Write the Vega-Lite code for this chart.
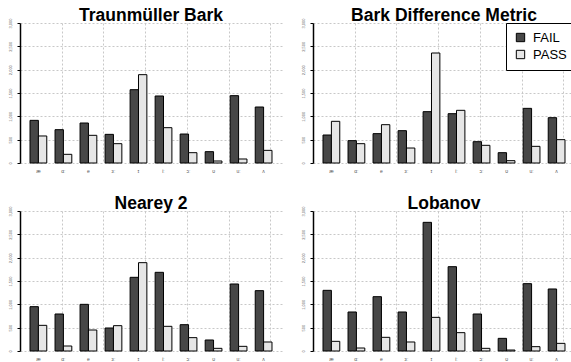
{
  "$schema": "https://vega.github.io/schema/vega-lite/v6.json",
  "padding": {"left": 2, "top": 7, "right": 0, "bottom": 0},
  "background": "white",
  "config": {
    "view": {"stroke": null},
    "font": "Liberation Sans",
    "title": {"fontSize": 17.5, "fontWeight": "bold", "font": "Liberation Sans", "color": "black", "offset": -7},
    "bar": {"stroke": "black", "strokeWidth": 1}
  },
  "data": {"values": [
    {"method": "Traunmüller Bark", "vowel": "æ", "outcome": "FAIL", "count": 914},
    {"method": "Traunmüller Bark", "vowel": "æ", "outcome": "PASS", "count": 579},
    {"method": "Traunmüller Bark", "vowel": "ɑː", "outcome": "FAIL", "count": 714},
    {"method": "Traunmüller Bark", "vowel": "ɑː", "outcome": "PASS", "count": 186},
    {"method": "Traunmüller Bark", "vowel": "e", "outcome": "FAIL", "count": 857},
    {"method": "Traunmüller Bark", "vowel": "e", "outcome": "PASS", "count": 593},
    {"method": "Traunmüller Bark", "vowel": "ɜː", "outcome": "FAIL", "count": 614},
    {"method": "Traunmüller Bark", "vowel": "ɜː", "outcome": "PASS", "count": 414},
    {"method": "Traunmüller Bark", "vowel": "ɪ", "outcome": "FAIL", "count": 1571},
    {"method": "Traunmüller Bark", "vowel": "ɪ", "outcome": "PASS", "count": 1893},
    {"method": "Traunmüller Bark", "vowel": "iː", "outcome": "FAIL", "count": 1436},
    {"method": "Traunmüller Bark", "vowel": "iː", "outcome": "PASS", "count": 757},
    {"method": "Traunmüller Bark", "vowel": "ɔː", "outcome": "FAIL", "count": 621},
    {"method": "Traunmüller Bark", "vowel": "ɔː", "outcome": "PASS", "count": 221},
    {"method": "Traunmüller Bark", "vowel": "ʊ", "outcome": "FAIL", "count": 243},
    {"method": "Traunmüller Bark", "vowel": "ʊ", "outcome": "PASS", "count": 43},
    {"method": "Traunmüller Bark", "vowel": "uː", "outcome": "FAIL", "count": 1443},
    {"method": "Traunmüller Bark", "vowel": "uː", "outcome": "PASS", "count": 86},
    {"method": "Traunmüller Bark", "vowel": "ʌ", "outcome": "FAIL", "count": 1200},
    {"method": "Traunmüller Bark", "vowel": "ʌ", "outcome": "PASS", "count": 271},
    {"method": "Bark Difference Metric", "vowel": "æ", "outcome": "FAIL", "count": 600},
    {"method": "Bark Difference Metric", "vowel": "æ", "outcome": "PASS", "count": 893},
    {"method": "Bark Difference Metric", "vowel": "ɑː", "outcome": "FAIL", "count": 479},
    {"method": "Bark Difference Metric", "vowel": "ɑː", "outcome": "PASS", "count": 414},
    {"method": "Bark Difference Metric", "vowel": "e", "outcome": "FAIL", "count": 629},
    {"method": "Bark Difference Metric", "vowel": "e", "outcome": "PASS", "count": 821},
    {"method": "Bark Difference Metric", "vowel": "ɜː", "outcome": "FAIL", "count": 693},
    {"method": "Bark Difference Metric", "vowel": "ɜː", "outcome": "PASS", "count": 321},
    {"method": "Bark Difference Metric", "vowel": "ɪ", "outcome": "FAIL", "count": 1100},
    {"method": "Bark Difference Metric", "vowel": "ɪ", "outcome": "PASS", "count": 2357},
    {"method": "Bark Difference Metric", "vowel": "iː", "outcome": "FAIL", "count": 1057},
    {"method": "Bark Difference Metric", "vowel": "iː", "outcome": "PASS", "count": 1129},
    {"method": "Bark Difference Metric", "vowel": "ɔː", "outcome": "FAIL", "count": 457},
    {"method": "Bark Difference Metric", "vowel": "ɔː", "outcome": "PASS", "count": 379},
    {"method": "Bark Difference Metric", "vowel": "ʊ", "outcome": "FAIL", "count": 221},
    {"method": "Bark Difference Metric", "vowel": "ʊ", "outcome": "PASS", "count": 50},
    {"method": "Bark Difference Metric", "vowel": "uː", "outcome": "FAIL", "count": 1171},
    {"method": "Bark Difference Metric", "vowel": "uː", "outcome": "PASS", "count": 357},
    {"method": "Bark Difference Metric", "vowel": "ʌ", "outcome": "FAIL", "count": 971},
    {"method": "Bark Difference Metric", "vowel": "ʌ", "outcome": "PASS", "count": 500},
    {"method": "Nearey 2", "vowel": "æ", "outcome": "FAIL", "count": 950},
    {"method": "Nearey 2", "vowel": "æ", "outcome": "PASS", "count": 550},
    {"method": "Nearey 2", "vowel": "ɑː", "outcome": "FAIL", "count": 793},
    {"method": "Nearey 2", "vowel": "ɑː", "outcome": "PASS", "count": 107},
    {"method": "Nearey 2", "vowel": "e", "outcome": "FAIL", "count": 1000},
    {"method": "Nearey 2", "vowel": "e", "outcome": "PASS", "count": 450},
    {"method": "Nearey 2", "vowel": "ɜː", "outcome": "FAIL", "count": 493},
    {"method": "Nearey 2", "vowel": "ɜː", "outcome": "PASS", "count": 543},
    {"method": "Nearey 2", "vowel": "ɪ", "outcome": "FAIL", "count": 1579},
    {"method": "Nearey 2", "vowel": "ɪ", "outcome": "PASS", "count": 1893},
    {"method": "Nearey 2", "vowel": "iː", "outcome": "FAIL", "count": 1686},
    {"method": "Nearey 2", "vowel": "iː", "outcome": "PASS", "count": 529},
    {"method": "Nearey 2", "vowel": "ɔː", "outcome": "FAIL", "count": 564},
    {"method": "Nearey 2", "vowel": "ɔː", "outcome": "PASS", "count": 286},
    {"method": "Nearey 2", "vowel": "ʊ", "outcome": "FAIL", "count": 236},
    {"method": "Nearey 2", "vowel": "ʊ", "outcome": "PASS", "count": 57},
    {"method": "Nearey 2", "vowel": "uː", "outcome": "FAIL", "count": 1436},
    {"method": "Nearey 2", "vowel": "uː", "outcome": "PASS", "count": 100},
    {"method": "Nearey 2", "vowel": "ʌ", "outcome": "FAIL", "count": 1293},
    {"method": "Nearey 2", "vowel": "ʌ", "outcome": "PASS", "count": 193},
    {"method": "Lobanov", "vowel": "æ", "outcome": "FAIL", "count": 1300},
    {"method": "Lobanov", "vowel": "æ", "outcome": "PASS", "count": 207},
    {"method": "Lobanov", "vowel": "ɑː", "outcome": "FAIL", "count": 836},
    {"method": "Lobanov", "vowel": "ɑː", "outcome": "PASS", "count": 64},
    {"method": "Lobanov", "vowel": "e", "outcome": "FAIL", "count": 1164},
    {"method": "Lobanov", "vowel": "e", "outcome": "PASS", "count": 293},
    {"method": "Lobanov", "vowel": "ɜː", "outcome": "FAIL", "count": 836},
    {"method": "Lobanov", "vowel": "ɜː", "outcome": "PASS", "count": 193},
    {"method": "Lobanov", "vowel": "ɪ", "outcome": "FAIL", "count": 2757},
    {"method": "Lobanov", "vowel": "ɪ", "outcome": "PASS", "count": 721},
    {"method": "Lobanov", "vowel": "iː", "outcome": "FAIL", "count": 1807},
    {"method": "Lobanov", "vowel": "iː", "outcome": "PASS", "count": 393},
    {"method": "Lobanov", "vowel": "ɔː", "outcome": "FAIL", "count": 793},
    {"method": "Lobanov", "vowel": "ɔː", "outcome": "PASS", "count": 57},
    {"method": "Lobanov", "vowel": "ʊ", "outcome": "FAIL", "count": 271},
    {"method": "Lobanov", "vowel": "ʊ", "outcome": "PASS", "count": 21},
    {"method": "Lobanov", "vowel": "uː", "outcome": "FAIL", "count": 1443},
    {"method": "Lobanov", "vowel": "uː", "outcome": "PASS", "count": 93},
    {"method": "Lobanov", "vowel": "ʌ", "outcome": "FAIL", "count": 1329},
    {"method": "Lobanov", "vowel": "ʌ", "outcome": "PASS", "count": 164}
  ]},
  "columns": 2,
  "spacing": {"row": 20, "column": 13},
  "resolve": {"legend": {"color": "independent"}},
  "concat": [
    {
      "title": "Traunmüller Bark",
      "width": 262, "height": 140,
      "transform": [{"filter": "datum.method === 'Traunmüller Bark'"}],
      "resolve": {"scale": {"x": "independent"}, "axis": {"x": "independent"}},
      "layer": [
        {
          "mark": {"type": "bar"},
          "encoding": {
            "x": {"field": "vowel", "type": "nominal", "sort": ["æ", "ɑː", "e", "ɜː", "ɪ", "iː", "ɔː", "ʊ", "uː", "ʌ"], "scale": {"paddingInner": 0.33, "paddingOuter": 0.4}, "axis": {"title": null, "labelAngle": 0, "labelFontSize": 5, "labelColor": "#555", "ticks": false, "domain": false, "labelPadding": 5, "grid": false, "maxExtent": 12, "minExtent": 12}},
            "xOffset": {"field": "outcome", "type": "nominal", "sort": ["FAIL", "PASS"]},
            "y": {"field": "count", "type": "quantitative", "scale": {"domain": [0, 3000], "nice": false}, "axis": {"title": null, "values": [0, 500, 1000, 1500, 2000, 2500, 3000], "grid": true, "gridDash": [2, 2], "gridColor": "#c8c8c8", "domainColor": "black", "domainWidth": 1.5, "tickColor": "black", "tickSize": 3, "labelFontSize": 4, "labelAngle": 270, "labelColor": "#666", "labelPadding": 5, "labelOverlap": false, "minExtent": 18, "maxExtent": 18}},
            "color": {"field": "outcome", "type": "nominal", "scale": {"domain": ["FAIL", "PASS"], "range": ["#474747", "#e6e6e6"]}, "legend": null}
          }
        },
        {
          "mark": {"type": "rule", "opacity": 0},
          "encoding": {"x": {"datum": 0, "type": "quantitative", "scale": {"domain": [0, 6.28], "nice": false, "zero": false}, "axis": {"orient": "top", "values": [1, 2, 3, 4, 5, 6], "grid": true, "labels": false, "ticks": false, "domain": false, "title": null, "gridDash": [2, 2], "gridColor": "#c8c8c8", "minExtent": 0, "maxExtent": 0}}}
        }
      ]
    },
    {
      "title": "Bark Difference Metric",
      "width": 262, "height": 140,
      "transform": [{"filter": "datum.method === 'Bark Difference Metric'"}],
      "resolve": {"scale": {"x": "independent"}, "axis": {"x": "independent"}},
      "layer": [
        {
          "mark": {"type": "bar"},
          "encoding": {
            "x": {"field": "vowel", "type": "nominal", "sort": ["æ", "ɑː", "e", "ɜː", "ɪ", "iː", "ɔː", "ʊ", "uː", "ʌ"], "scale": {"paddingInner": 0.33, "paddingOuter": 0.4}, "axis": {"title": null, "labelAngle": 0, "labelFontSize": 5, "labelColor": "#555", "ticks": false, "domain": false, "labelPadding": 5, "grid": false, "maxExtent": 12, "minExtent": 12}},
            "xOffset": {"field": "outcome", "type": "nominal", "sort": ["FAIL", "PASS"]},
            "y": {"field": "count", "type": "quantitative", "scale": {"domain": [0, 3000], "nice": false}, "axis": {"title": null, "values": [0, 500, 1000, 1500, 2000, 2500, 3000], "grid": true, "gridDash": [2, 2], "gridColor": "#c8c8c8", "domainColor": "black", "domainWidth": 1.5, "tickColor": "black", "tickSize": 3, "labelFontSize": 4, "labelAngle": 270, "labelColor": "#666", "labelPadding": 5, "labelOverlap": false, "minExtent": 18, "maxExtent": 18}},
            "color": {"field": "outcome", "type": "nominal", "scale": {"domain": ["FAIL", "PASS"], "range": ["#474747", "#e6e6e6"]}, "legend": {"title": null, "orient": "top-right", "offset": 0, "labelFontSize": 13, "labelFont": "Liberation Sans", "labelColor": "black", "symbolType": "square", "symbolSize": 70, "symbolStrokeColor": "black", "symbolStrokeWidth": 1, "fillColor": "white", "strokeColor": "black", "padding": 8, "rowPadding": 3, "labelOffset": 6, "encode": {"legend": {"update": {"strokeWidth": {"value": 1.5}}}}}}
          }
        },
        {
          "mark": {"type": "rule", "opacity": 0},
          "encoding": {"x": {"datum": 0, "type": "quantitative", "scale": {"domain": [0, 6.28], "nice": false, "zero": false}, "axis": {"orient": "top", "values": [1, 2, 3, 4, 5, 6], "grid": true, "labels": false, "ticks": false, "domain": false, "title": null, "gridDash": [2, 2], "gridColor": "#c8c8c8", "minExtent": 0, "maxExtent": 0}}}
        }
      ]
    },
    {
      "title": "Nearey 2",
      "width": 262, "height": 140,
      "transform": [{"filter": "datum.method === 'Nearey 2'"}],
      "resolve": {"scale": {"x": "independent"}, "axis": {"x": "independent"}},
      "layer": [
        {
          "mark": {"type": "bar"},
          "encoding": {
            "x": {"field": "vowel", "type": "nominal", "sort": ["æ", "ɑː", "e", "ɜː", "ɪ", "iː", "ɔː", "ʊ", "uː", "ʌ"], "scale": {"paddingInner": 0.33, "paddingOuter": 0.4}, "axis": {"title": null, "labelAngle": 0, "labelFontSize": 5, "labelColor": "#555", "ticks": false, "domain": false, "labelPadding": 5, "grid": false, "maxExtent": 12, "minExtent": 12}},
            "xOffset": {"field": "outcome", "type": "nominal", "sort": ["FAIL", "PASS"]},
            "y": {"field": "count", "type": "quantitative", "scale": {"domain": [0, 3000], "nice": false}, "axis": {"title": null, "values": [0, 500, 1000, 1500, 2000, 2500, 3000], "grid": true, "gridDash": [2, 2], "gridColor": "#c8c8c8", "domainColor": "black", "domainWidth": 1.5, "tickColor": "black", "tickSize": 3, "labelFontSize": 4, "labelAngle": 270, "labelColor": "#666", "labelPadding": 5, "labelOverlap": false, "minExtent": 18, "maxExtent": 18}},
            "color": {"field": "outcome", "type": "nominal", "scale": {"domain": ["FAIL", "PASS"], "range": ["#474747", "#e6e6e6"]}, "legend": null}
          }
        },
        {
          "mark": {"type": "rule", "opacity": 0},
          "encoding": {"x": {"datum": 0, "type": "quantitative", "scale": {"domain": [0, 6.28], "nice": false, "zero": false}, "axis": {"orient": "top", "values": [1, 2, 3, 4, 5, 6], "grid": true, "labels": false, "ticks": false, "domain": false, "title": null, "gridDash": [2, 2], "gridColor": "#c8c8c8", "minExtent": 0, "maxExtent": 0}}}
        }
      ]
    },
    {
      "title": "Lobanov",
      "width": 262, "height": 140,
      "transform": [{"filter": "datum.method === 'Lobanov'"}],
      "resolve": {"scale": {"x": "independent"}, "axis": {"x": "independent"}},
      "layer": [
        {
          "mark": {"type": "bar"},
          "encoding": {
            "x": {"field": "vowel", "type": "nominal", "sort": ["æ", "ɑː", "e", "ɜː", "ɪ", "iː", "ɔː", "ʊ", "uː", "ʌ"], "scale": {"paddingInner": 0.33, "paddingOuter": 0.4}, "axis": {"title": null, "labelAngle": 0, "labelFontSize": 5, "labelColor": "#555", "ticks": false, "domain": false, "labelPadding": 5, "grid": false, "maxExtent": 12, "minExtent": 12}},
            "xOffset": {"field": "outcome", "type": "nominal", "sort": ["FAIL", "PASS"]},
            "y": {"field": "count", "type": "quantitative", "scale": {"domain": [0, 3000], "nice": false}, "axis": {"title": null, "values": [0, 500, 1000, 1500, 2000, 2500, 3000], "grid": true, "gridDash": [2, 2], "gridColor": "#c8c8c8", "domainColor": "black", "domainWidth": 1.5, "tickColor": "black", "tickSize": 3, "labelFontSize": 4, "labelAngle": 270, "labelColor": "#666", "labelPadding": 5, "labelOverlap": false, "minExtent": 18, "maxExtent": 18}},
            "color": {"field": "outcome", "type": "nominal", "scale": {"domain": ["FAIL", "PASS"], "range": ["#474747", "#e6e6e6"]}, "legend": null}
          }
        },
        {
          "mark": {"type": "rule", "opacity": 0},
          "encoding": {"x": {"datum": 0, "type": "quantitative", "scale": {"domain": [0, 6.28], "nice": false, "zero": false}, "axis": {"orient": "top", "values": [1, 2, 3, 4, 5, 6], "grid": true, "labels": false, "ticks": false, "domain": false, "title": null, "gridDash": [2, 2], "gridColor": "#c8c8c8", "minExtent": 0, "maxExtent": 0}}}
        }
      ]
    }
  ]
}
